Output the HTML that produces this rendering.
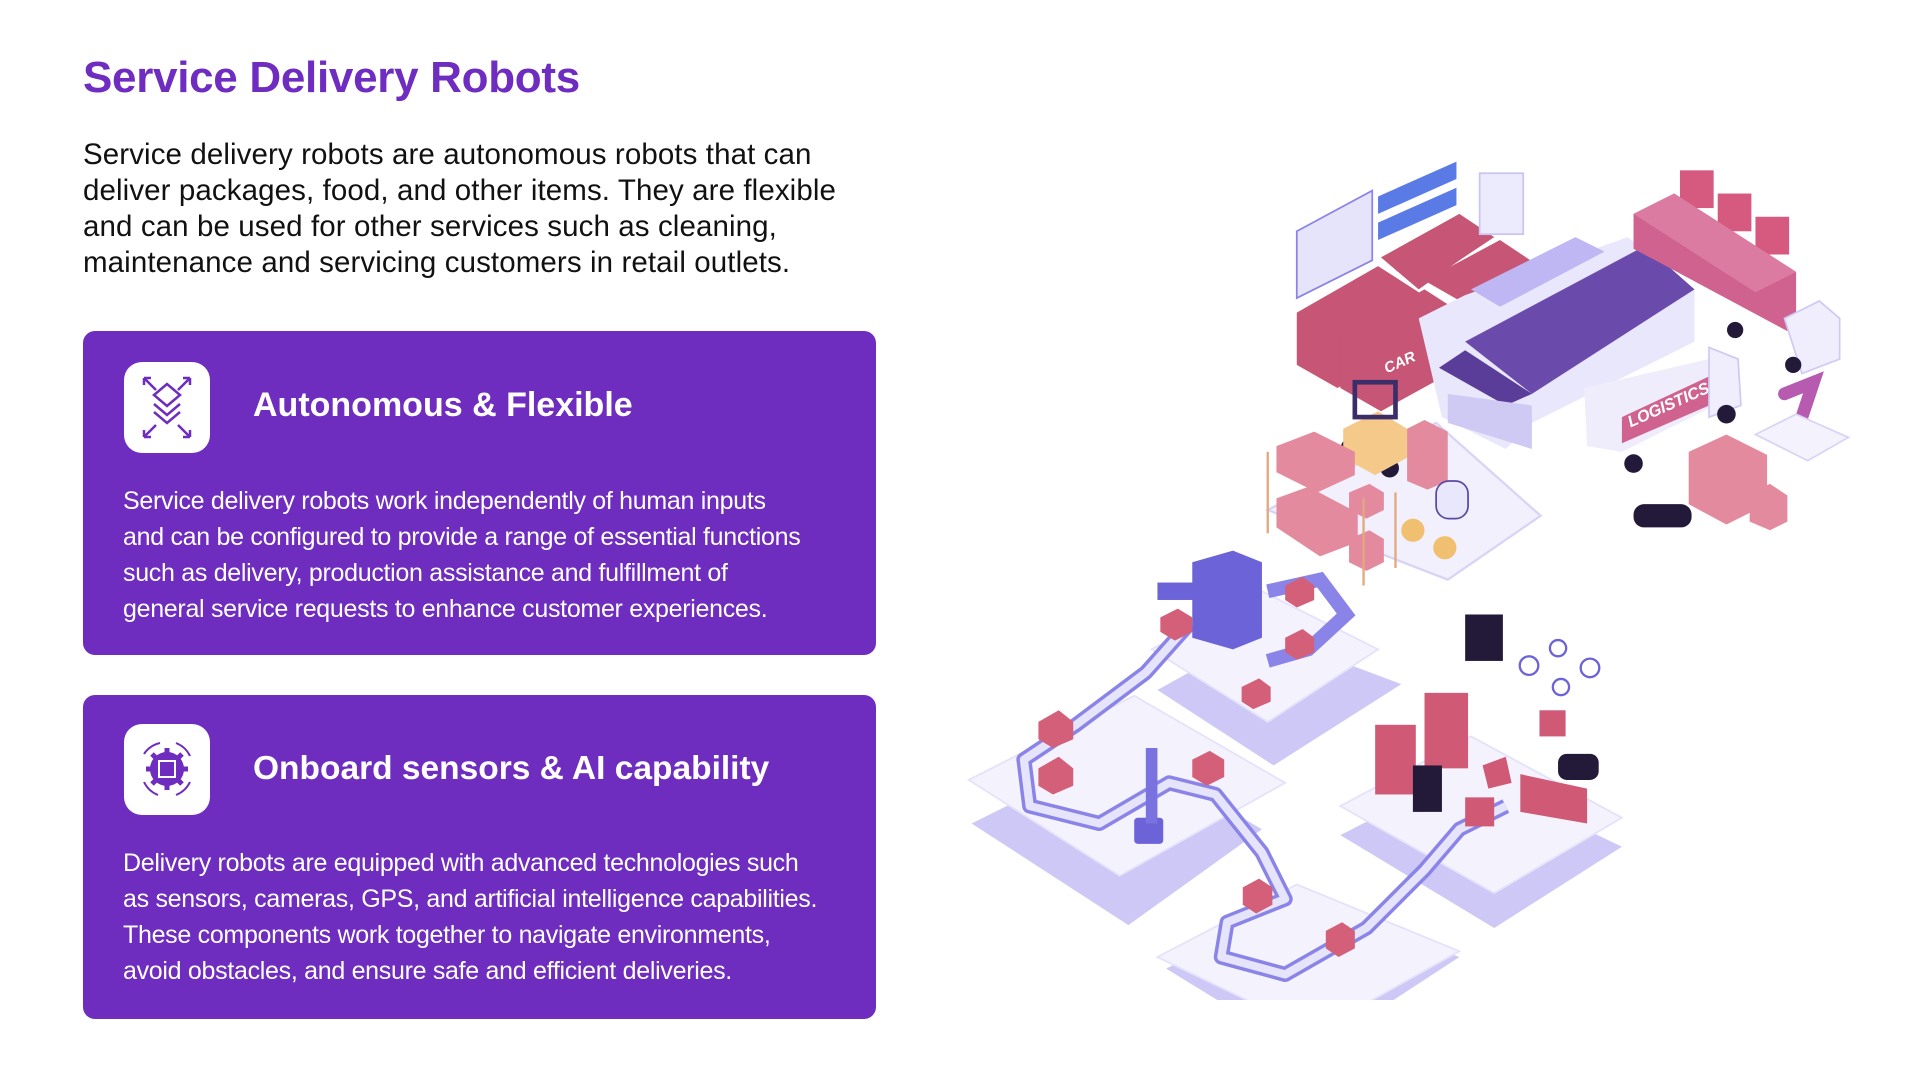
<!DOCTYPE html>
<html><head><meta charset="utf-8">
<style>
*{margin:0;padding:0;box-sizing:border-box}
body{width:1920px;height:1080px;background:#fff;position:relative;overflow:hidden;font-family:"Liberation Sans",sans-serif}
.t{position:absolute;white-space:nowrap}
h1{position:absolute;left:83px;top:53px;font-size:44px;font-weight:bold;color:#6e2dc0;letter-spacing:-0.3px}
.intro{left:83px;font-size:29.5px;color:#111;letter-spacing:0.1px;line-height:36px}
.card{position:absolute;left:83px;width:793px;background:#6e2dbf;border-radius:12px}
.icon{position:absolute;left:41px;width:86px;height:91px;background:#fff;border-radius:18px}
.h{position:absolute;left:170px;font-size:34px;font-weight:bold;color:#fff;white-space:nowrap}
.b{position:absolute;left:40px;font-size:25px;color:#fff;line-height:36px;white-space:nowrap;letter-spacing:-0.3px}
</style></head><body>
<h1>Service Delivery Robots</h1>
<div class="t intro" style="top:137px">Service delivery robots are autonomous robots that can<br>deliver packages, food, and other items. They are flexible<br>and can be used for other services such as cleaning,<br>maintenance and servicing customers in retail outlets.</div>

<div class="card" style="top:331px;height:324px">
  <div class="icon" style="top:31px">
    <svg width="86" height="91" viewBox="0 0 86 91" fill="none" stroke="#6e2dbf" stroke-width="2.5">
      <path d="M43 22 L56 33 L43 44 L30 33 Z"/>
      <path d="M30 42 L43 53 L56 42"/><path d="M30 50 L43 61 L56 50"/>
      <path d="M20 16 L32 28 M20 16 h7 M20 16 v7"/><path d="M66 16 L54 28 M66 16 h-7 M66 16 v7"/>
      <path d="M20 75 L32 63 M20 75 h7 M20 75 v-7"/><path d="M66 75 L54 63 M66 75 h-7 M66 75 v-7"/>
    </svg>
  </div>
  <div class="h" style="top:55px">Autonomous &amp; Flexible</div>
  <div class="b" style="top:152px">Service delivery robots work independently of human inputs<br>and can be configured to provide a range of essential functions<br>such as delivery, production assistance and fulfillment of<br>general service requests to enhance customer experiences.</div>
</div>

<div class="card" style="top:695px;height:324px">
  <div class="icon" style="top:29px">
    <svg width="86" height="91" viewBox="0 0 86 91" fill="none" stroke="#6e2dbf" stroke-width="2">
      <circle cx="43" cy="45" r="16" fill="#6e2dbf"/>
      <g stroke-width="5"><path d="M43 24v6M43 60v6M22 45h6M58 45h6M28 30l4 4M58 30l-4 4M28 60l4-4M58 60l-4-4"/></g>
      <rect x="35" y="37" width="16" height="16" stroke="#fff"/>
      <path d="M20 30 A26 26 0 0 1 36 19 M52 19 A26 26 0 0 1 66 32 M66 58 A26 26 0 0 1 52 71 M34 71 A26 26 0 0 1 20 58"/>
    </svg>
  </div>
  <div class="h" style="top:55px;font-size:33.5px">Onboard sensors &amp; AI capability</div>
  <div class="b" style="top:150px">Delivery robots are equipped with advanced technologies such<br>as sensors, cameras, GPS, and artificial intelligence capabilities.<br>These components work together to navigate environments,<br>avoid obstacles, and ensure safe and efficient deliveries.</div>
</div>

<svg style="position:absolute;left:960px;top:150px" width="900" height="850" viewBox="0 0 1550 1464">
  <polygon points="20,1160 280,1030 520,1170 290,1335" fill="#cdc8f6"/>
  <polygon points="340,930 520,830 760,920 540,1060" fill="#cdc8f6"/>
  <polygon points="355,1410 590,1290 860,1390 600,1560" fill="#cdc8f6"/>
  <polygon points="655,1180 870,1070 1140,1200 920,1340" fill="#cdc8f6"/>
  <polygon points="15,1085 300,940 560,1090 275,1250" fill="#f3f2fd" stroke="#e4e2fa" stroke-width="3"/>
  <polygon points="330,860 520,760 720,860 530,985" fill="#f3f2fd" stroke="#e4e2fa" stroke-width="3"/>
  <polygon points="340,1390 580,1265 860,1380 610,1520" fill="#f3f2fd" stroke="#e4e2fa" stroke-width="3"/>
  <polygon points="655,1130 880,1010 1140,1150 920,1280" fill="#f3f2fd" stroke="#e4e2fa" stroke-width="3"/>
  <polygon points="530,620 820,470 1000,630 840,740" fill="#f1f0fc" stroke="#d8d4f6" stroke-width="4"/>
  <path d="M400,810 L320,900 L200,990 L110,1050 L120,1130 L240,1160 L360,1090 L440,1110 L520,1210 L560,1290 L460,1330 L450,1390 L560,1420 L700,1340 L800,1240 L860,1170 L940,1130" fill="none" stroke="#8b84e8" stroke-width="26" stroke-linejoin="round"/>
  <path d="M400,810 L320,900 L200,990 L110,1050 L120,1130 L240,1160 L360,1090 L440,1110 L520,1210 L560,1290 L460,1330 L450,1390 L560,1420 L700,1340 L800,1240 L860,1170 L940,1130" fill="none" stroke="#e6e4fb" stroke-width="14" stroke-linejoin="round"/>
  <path d="M530,760 L620,740 L665,800 L600,860 L530,880" fill="none" stroke="#8b84e8" stroke-width="24"/>
  <polygon points="400,710 470,690 520,710 520,840 470,860 400,840" fill="#6c63d8"/>
  <rect x="340" y="745" width="80" height="30" fill="#6c63d8"/>
  <rect x="300" y="1150" width="50" height="45" fill="#6c63d8" rx="6"/>
  <rect x="320" y="1030" width="20" height="130" fill="#7a72de"/>
  <g fill="#d35f78">
    <polygon points="560,750 590,735 610,750 610,775 580,788 560,775"/>
    <polygon points="560,840 590,825 610,840 610,865 580,878 560,865"/>
    <polygon points="485,925 515,910 535,925 535,950 505,963 485,950"/>
    <polygon points="135,985 170,965 195,985 195,1015 160,1030 135,1015"/>
    <polygon points="135,1065 170,1045 195,1065 195,1095 160,1110 135,1095"/>
    <polygon points="400,1050 430,1035 455,1050 455,1080 425,1095 400,1080"/>
    <polygon points="487,1270 515,1255 538,1270 538,1300 510,1315 487,1300"/>
    <polygon points="630,1345 658,1330 680,1345 680,1375 652,1390 630,1375"/>
    <polygon points="345,805 375,790 400,805 400,830 370,845 345,830"/>
  </g>
  <g fill="#d05a75">
    <rect x="715" y="990" width="70" height="120"/>
    <rect x="800" y="935" width="75" height="130"/>
    <polygon points="900,1060 940,1045 950,1090 910,1100"/>
    <polygon points="965,1075 1080,1100 1080,1160 965,1140"/>
    <rect x="870" y="1115" width="50" height="50"/>
  </g>
  <rect x="870" y="800" width="65" height="80" fill="#231a3a"/>
  <rect x="780" y="1060" width="50" height="80" fill="#231a3a"/>
  <rect x="1030" y="1040" width="70" height="45" fill="#231a3a" rx="15"/>
  <g fill="none" stroke="#6c63d8" stroke-width="4"><circle cx="980" cy="888" r="16"/><circle cx="1085" cy="892" r="16"/><circle cx="1030" cy="858" r="14"/><circle cx="1035" cy="925" r="14"/></g>
  <rect x="998" y="965" width="45" height="45" fill="#d05a75"/>
  <g fill="#c75575">
    <polygon points="580,280 720,200 790,245 790,330 650,410 580,370"/>
    <polygon points="655,320 800,240 870,285 870,370 725,450 655,410"/>
    <polygon points="725,185 860,110 920,150 860,190 790,240"/>
    <polygon points="800,225 930,155 990,195 870,265"/>
  </g>
  <polygon points="580,140 710,70 710,190 580,255" fill="#e6e4fb" stroke="#8b84e8" stroke-width="3"/>
  <polygon points="720,80 855,20 855,50 720,110" fill="#5a7ae6"/>
  <polygon points="720,125 855,65 855,95 720,155" fill="#5a7ae6"/>
  <rect x="895" y="40" width="75" height="105" fill="#eceafd" stroke="#c9c4f2" stroke-width="3"/>
  <g fill="#d65a80"><rect x="1240" y="35" width="58" height="65"/><rect x="1305" y="75" width="58" height="65"/><rect x="1370" y="115" width="58" height="65"/></g>
  <polygon points="790,290 870,250 1150,150 1265,240 1265,330 985,470 940,515 830,460" fill="#e9e7fb"/>
  <polygon points="870,330 1180,165 1265,240 985,420" fill="#6a4aaa"/>
  <polygon points="825,375 870,345 985,420 940,440" fill="#5a3d98"/>
  <polygon points="840,420 985,440 985,515 840,470" fill="#cfcaf4"/>
  <polygon points="880,240 1060,150 1110,175 930,270" fill="#bfb7f3"/>
  <polygon points="1160,110 1230,75 1440,210 1440,320 1160,170" fill="#d0628f"/>
  <polygon points="1160,110 1230,75 1440,210 1370,245" fill="#dc7ba2"/>
  <polygon points="1420,290 1480,260 1515,290 1515,360 1450,385" fill="#f0eefc" stroke="#cfcaf4" stroke-width="3"/>
  <polygon points="1075,410 1290,360 1300,440 1140,520 1080,510" fill="#efedfc"/>
  <polygon points="1140,460 1290,390 1290,440 1140,505" fill="#d0628f"/>
  <text x="1155" y="478" fill="#fff" font-size="28" font-weight="bold" font-style="italic" transform="rotate(-24 1155 478)" font-family="Liberation Sans,sans-serif">LOGISTICS</text>
  <text x="735" y="385" fill="#fff" font-size="26" font-weight="bold" font-style="italic" transform="rotate(-24 735 385)" font-family="Liberation Sans,sans-serif">CAR</text>
  <polygon points="1290,340 1340,360 1345,440 1290,460" fill="#f0eefc" stroke="#cfcaf4" stroke-width="3"/>
  <g fill="#231a3a"><circle cx="1160" cy="540" r="16"/><circle cx="1320" cy="455" r="16"/><circle cx="1335" cy="310" r="14"/><circle cx="1435" cy="370" r="14"/><circle cx="740" cy="548" r="16"/><circle cx="670" cy="512" r="14"/></g>
  <polygon points="660,480 720,450 770,480 770,530 715,560 660,530" fill="#f4c98a"/>
  <rect x="680" y="400" width="70" height="60" fill="none" stroke="#3a2d6a" stroke-width="8"/>
  <g fill="#e48a9e">
    <polygon points="1255,520 1320,490 1390,525 1390,610 1320,645 1255,610"/>
    <polygon points="1360,590 1395,575 1425,595 1425,640 1395,655 1360,640"/>
    <polygon points="770,480 800,465 840,485 840,570 805,585 770,570"/>
  </g>
  <g fill="#e48a9e">
    <polygon points="545,510 610,485 680,520 680,560 615,590 545,555"/>
    <polygon points="545,600 600,580 685,625 685,675 620,700 545,650"/>
    <polygon points="670,590 705,575 730,590 730,620 700,635 670,620"/>
    <polygon points="670,670 705,655 730,670 730,710 700,725 670,710"/>
  </g>
  <g stroke="#e2a87e" stroke-width="4"><line x1="530" y1="520" x2="530" y2="660"/><line x1="695" y1="600" x2="695" y2="750"/><line x1="750" y1="590" x2="750" y2="720"/></g>
  <path d="M1440,490 L1470,400 L1420,420" fill="none" stroke="#b65bb0" stroke-width="22" stroke-linecap="round"/>
  <polygon points="1370,490 1440,455 1530,495 1460,535" fill="#f4f3fd" stroke="#d8d4f6" stroke-width="3"/>
  <g fill="#f0c070"><circle cx="780" cy="655" r="20"/><circle cx="835" cy="685" r="20"/></g>
  <rect x="1160" y="610" width="100" height="40" rx="18" fill="#231a3a"/>
  <rect x="820" y="570" width="55" height="65" rx="22" fill="#e9e7fb" stroke="#5a4aa0" stroke-width="3"/>
</svg>
</body></html>
